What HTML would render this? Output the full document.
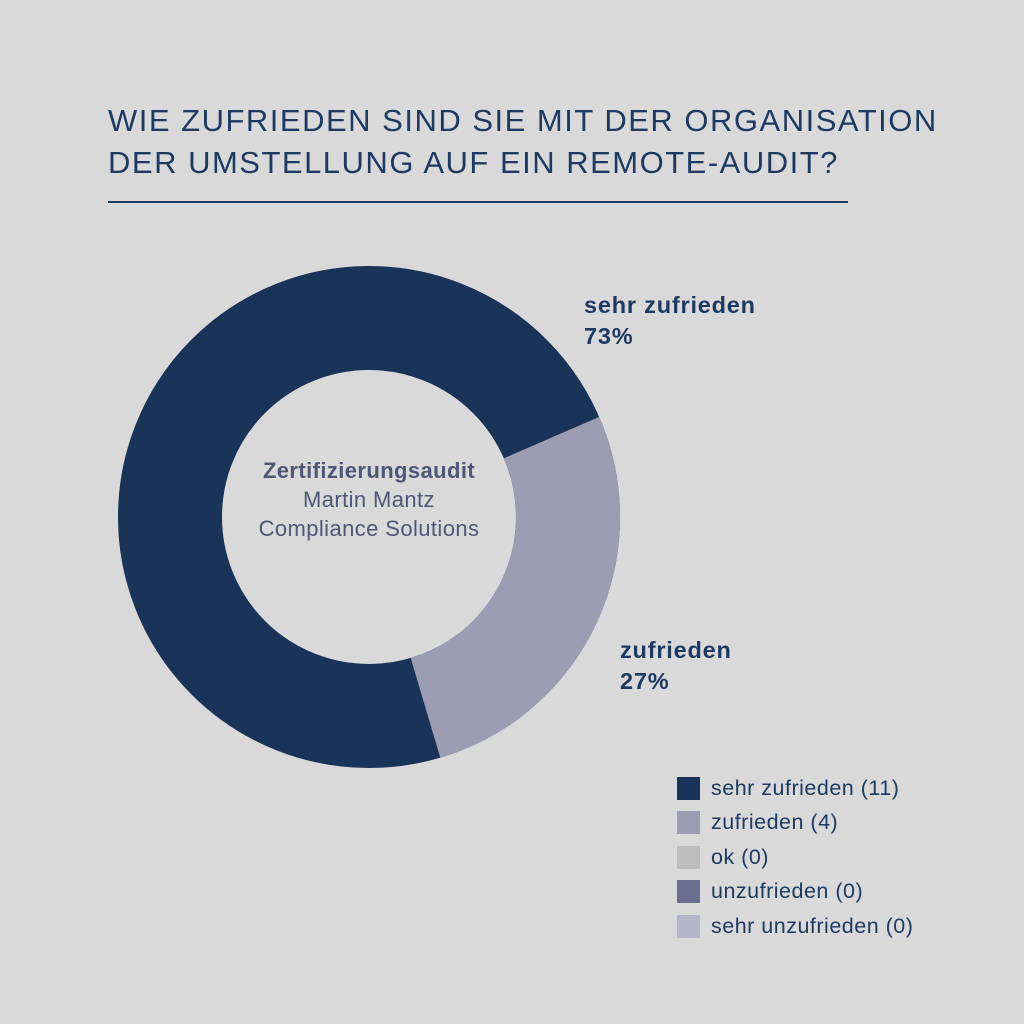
<!DOCTYPE html>
<html><head><meta charset="utf-8"><style>
body{margin:0;width:1024px;height:1024px;background:#d9d9d9;font-family:"Liberation Sans",sans-serif;position:relative;overflow:hidden}
.t{position:absolute;left:108px;color:#1d3a63;font-size:31px;letter-spacing:1.5px}
.lab{position:absolute;color:#1d3a63;font-size:23.5px;font-weight:bold;line-height:31px;letter-spacing:0.8px}
.lg{position:absolute;left:677px;font-size:21.5px;color:#1d3a63;letter-spacing:0.5px}
.lg div{height:34.5px;display:flex;align-items:center}
.lg span{display:inline-block;width:23px;height:23px;margin-right:11px}
.c{position:absolute;left:169px;width:400px;text-align:center;color:#4f5777;font-size:22px;line-height:29px;letter-spacing:0.4px}
</style></head><body>
<div class="t" style="top:103px">WIE ZUFRIEDEN SIND SIE MIT DER ORGANISATION</div>
<div class="t" style="top:145px">DER UMSTELLUNG AUF EIN REMOTE-AUDIT?</div>
<div style="position:absolute;left:108px;top:201px;width:740px;height:2px;background:#1d3a63"></div>
<svg width="1024" height="1024" style="position:absolute;left:0;top:0">
<circle cx="369" cy="517" r="199" fill="none" stroke="#1a3358" stroke-width="104"/>
<path d="M599.2 416.9 A251 251 0 0 1 440.3 757.7 L410.7 658 A147 147 0 0 0 503.8 458.3 Z" fill="#9c9db3"/>
</svg>
<div class="c" style="top:456px"><b>Zertifizierungsaudit</b><br>Martin Mantz<br>Compliance Solutions</div>
<div class="lab" style="left:584px;top:290px">sehr zufrieden<br>73%</div>
<div class="lab" style="left:620px;top:635px">zufrieden<br>27%</div>
<div class="lg" style="top:771px">
<div><span style="background:#1a3358"></span>sehr zufrieden (11)</div>
<div><span style="background:#9c9db3"></span>zufrieden (4)</div>
<div><span style="background:#bdbdbd"></span>ok (0)</div>
<div><span style="background:#6a6f90"></span>unzufrieden (0)</div>
<div><span style="background:#b4b6c8"></span>sehr unzufrieden (0)</div>
</div>
</body></html>
